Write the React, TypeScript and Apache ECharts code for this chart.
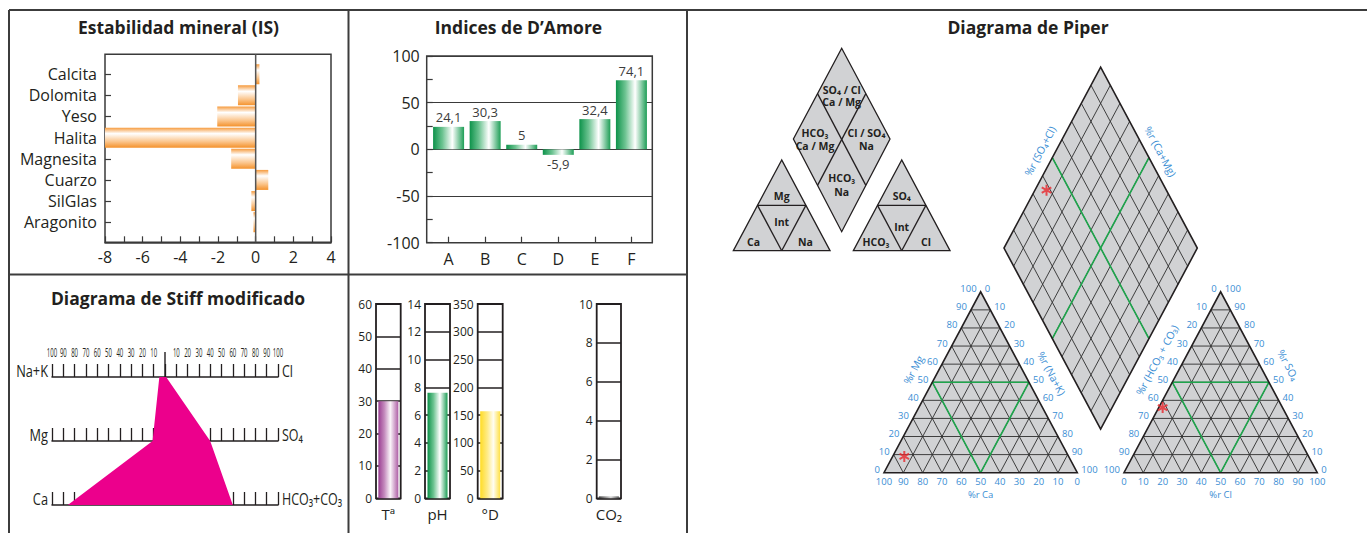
import React, { useEffect, useRef } from "react";
import * as echarts from "echarts";

// ---------- data ----------
const minerals = ["Calcita", "Dolomita", "Yeso", "Halita", "Magnesita", "Cuarzo", "SilGlas", "Aragonito"];
const saturationIndex = [0.2, -0.94, -2.04, -8, -1.3, 0.67, -0.23, -0.12];

const amoreIndices = ["A", "B", "C", "D", "E", "F"];
const amoreValues = [24.1, 30.3, 5, -5.9, 32.4, 74.1];

const stiffCationNames = ["Na+K", "Mg", "Ca"];
const stiffAnionNames = ["Cl", "SO₄", "HCO₃+CO₃"];
const stiffCations = [5, 11, 86];
const stiffAnions = [1, 40, 60];
const stiffTicks = [-100, -90, -80, -70, -60, -50, -40, -30, -20, -10, 10, 20, 30, 40, 50, 60, 70, 80, 90, 100];

const gaugeNames = ["Tª", "pH", "°D", "CO₂"];
const gaugeValues = [30, 7.6, 157, 0.1];
const gaugeMax = [60, 14, 350, 10];
const gaugeStep = [10, 2, 50, 2];

// % meq/L: Ca, Mg, Na+K  and  HCO3+CO3, SO4, Cl
const piperCations = [85, 9, 6];
const piperAnions = [62, 36, 2];
const piperTicks = [0, 10, 20, 30, 40, 50, 60, 70, 80, 90, 100];

// ---------- styles & layout ----------
const SANS = "'Open Sans', 'Noto Sans', 'DejaVu Sans', sans-serif";
const INK = "#231f20";
const RULE = "#3a3a3a";
const BLUE = "#3b8ed4";
const PIPER_FILL = "#d1d2d4";
const GRIDLINE = "#2e2e2e";
const GREEN_LINE = "#1ea54c";

const SI_BOX = { left: 105, top: 54.3, width: 226, height: 188 };
const SI_BARS = { left: 105, top: 63.6, width: 226, height: 169.2 };
const AM_BOX = { left: 426.7, top: 56, width: 225.6, height: 186.7 };
const AM_BARS = { left: 430.3, top: 56, width: 219.4, height: 186.7 };
const STIFF_LEFT = 52;
const STIFF_WIDTH = 226;
const STIFF_ROWS = [377, 441, 505];
const GAUGE_LEFT = [376, 425, 477.7, 596.7];
const GAUGE_WIDTH = [24.7, 25, 25, 24.3];
const GAUGE_TOP = 304;
const GAUGE_HEIGHT = 194.3;

// Piper geometry, in percent units (triangle base = 100)
const PIPER_GAP = 24.15;
const PIPER_H = 93.6;
const PIPER_RIGHT = 100 + PIPER_GAP;
const PIPER_B = [100 + PIPER_GAP / 2, (PIPER_GAP / 2) * (PIPER_H / 50)];
const PIPER_L = [PIPER_B[0] - 50, PIPER_B[1] + PIPER_H];
const PIPER_R = [PIPER_B[0] + 50, PIPER_B[1] + PIPER_H];
const PIPER_T = [PIPER_B[0], PIPER_B[1] + 2 * PIPER_H];
const PIPER_XMAX = 200 + PIPER_GAP;
const PIPER_YMAX = PIPER_T[1];
const PIPER_PX = 1.933;
const PIPER_ORIGIN = [884, 472.7];

const grad = (x2: number, y2: number, stops: [number, string][]) =>
  new echarts.graphic.LinearGradient(0, 0, x2, y2, stops.map(([offset, color]) => ({ offset, color })));

const ORANGE = () => grad(0, 1, [[0, "#f69a3c"], [0.3, "#ffffff"], [0.7, "#fbc58c"], [1, "#f4922c"]]);
const GREEN = () => grad(1, 0, [[0, "#0d924a"], [0.3, "#6cc391"], [0.62, "#ffffff"], [1, "#1d9e56"]]);
const gaugeFills = () => [
  grad(1, 0, [[0, "#9a3d92"], [0.3, "#c48abd"], [0.6, "#fbf5fa"], [1, "#ad5ea5"]]),
  GREEN(),
  grad(1, 0, [[0, "#ffdc26"], [0.35, "#ffeb85"], [0.66, "#fffdf2"], [1, "#ffe044"]]),
  grad(1, 0, [[0, "#3c3c3c"], [0.6, "#d8d8d8"], [1, "#555555"]]),
];

const mid = (a: number[], b: number[]) => [(a[0] + b[0]) / 2, (a[1] + b[1]) / 2];

function textStyle(text: string, fill: string, size: number, family: string, align = "center", weight = "normal") {
  return {
    text,
    fill,
    fontSize: size,
    fontFamily: family,
    fontWeight: weight,
    align,
    textAlign: align,
    verticalAlign: "middle",
    textVerticalAlign: "middle",
  };
}

function asteriskSymbol(): string {
  const len = 6;
  const w = 1.1;
  let d = "";
  for (const deg of [90, 30, 150]) {
    const a = (deg * Math.PI) / 180;
    const dx = Math.cos(a);
    const dy = Math.sin(a);
    const nx = -dy;
    const ny = dx;
    const pts = [
      [len * dx + w * nx, len * dy + w * ny],
      [len * dx - w * nx, len * dy - w * ny],
      [-len * dx - w * nx, -len * dy - w * ny],
      [-len * dx + w * nx, -len * dy + w * ny],
    ];
    d += "M" + pts.map((p) => p[0].toFixed(2) + " " + p[1].toFixed(2)).join(" L") + " Z ";
  }
  return "path://" + d;
}

// sample position on each Piper field
function piperPoints(): number[][] {
  const [ca, mg, nak] = piperCations;
  const [hco3, so4, cl] = piperAnions;
  const tot1 = ca + mg + nak;
  const tot2 = hco3 + so4 + cl;
  const cation = [(100 * nak) / tot1 + (50 * mg) / tot1, (PIPER_H * mg) / tot1];
  const anion = [PIPER_RIGHT + (100 * cl) / tot2 + (50 * so4) / tot2, (PIPER_H * so4) / tot2];
  const a = (ca + mg) / tot1;
  const s = (so4 + cl) / tot2;
  const diamond = [PIPER_B[0] - 50 * a + 50 * s, PIPER_B[1] + PIPER_H * (a + s)];
  return [cation, anion, diamond];
}

// condensed text: regular glyphs squeezed horizontally around the anchor
function narrowText(x: number, y: number, s: string, size: number, squeeze: number, align: string) {
  return { type: "text", x, y, scaleX: squeeze, scaleY: 1, style: textStyle(s, INK, size, SANS, align) };
}

function renderStiff(_params: any, api: any) {
  const pts = [
    api.coord([-stiffCations[0], 0]),
    api.coord([stiffAnions[0], 0]),
    api.coord([stiffAnions[1], 1]),
    api.coord([stiffAnions[2], 2]),
    api.coord([-stiffCations[2], 2]),
    api.coord([-stiffCations[1], 1]),
  ];
  const top = api.coord([0, 0]);
  const kids: any[] = [
    { type: "polygon", shape: { points: pts }, style: { fill: "#ec008c" } },
    {
      type: "line",
      shape: { x1: top[0], y1: top[1], x2: top[0], y2: top[1] - 25 },
      style: { stroke: INK, lineWidth: 1.4 },
    },
  ];
  // scale numbers above the first row
  for (const v of stiffTicks) {
    const p = api.coord([v, 0]);
    kids.push(narrowText(p[0], p[1] - 24.5, String(Math.abs(v)), 12, 0.5, "center"));
  }
  // ion names at both ends of each row
  for (let i = 0; i < 3; i++) {
    const l = api.coord([-100, i]);
    const r = api.coord([100, i]);
    kids.push(narrowText(l[0] - 4, l[1] - 6, stiffCationNames[i], 16, 0.8, "right"));
    kids.push(narrowText(r[0] + 4, r[1] - 6, stiffAnionNames[i], 16, 0.78, "left"));
  }
  return { type: "group", children: kids };
}

function renderPiper(_params: any, api: any) {
  const c = (p: number[]) => api.coord(p) as number[];
  const kids: any[] = [];
  const seg = (a: number[], b: number[], stroke: string, lineWidth: number) => {
    const p = c(a);
    const q = c(b);
    kids.push({ type: "line", shape: { x1: p[0], y1: p[1], x2: q[0], y2: q[1] }, style: { stroke, lineWidth } });
  };
  const fillArea = (pts: number[][]) =>
    kids.push({ type: "polygon", shape: { points: pts.map(c) }, style: { fill: PIPER_FILL } });
  const outline = (pts: number[][]) =>
    kids.push({ type: "polygon", shape: { points: pts.map(c) }, style: { fill: "none", stroke: INK, lineWidth: 1.6 } });
  const text = (x: number, y: number, s: string, align = "center", size = 9.5, rotation = 0) =>
    kids.push({ type: "text", x, y, rotation, style: textStyle(s, BLUE, size, SANS, align) });

  const p0 = c([0, 0]);
  const p1 = c([50, PIPER_H]);
  const ang = Math.atan2(p0[1] - p1[1], p1[0] - p0[0]);
  const nL = [-Math.sin(ang), -Math.cos(ang)];
  const nR = [Math.sin(ang), -Math.cos(ang)];
  const at = (p: number[], n: number[], d: number) => {
    const q = c(p);
    return [q[0] + n[0] * d, q[1] + n[1] * d];
  };

  // ternary fields
  for (const ox of [0, PIPER_RIGHT]) {
    const tri = [[ox, 0], [ox + 100, 0], [ox + 50, PIPER_H]];
    fillArea(tri);
    for (let i = 1; i < 10; i++) {
      const t = i / 10;
      seg([ox + 50 * t, PIPER_H * t], [ox + 100 - 50 * t, PIPER_H * t], GRIDLINE, 0.9);
      seg([ox + 100 * t, 0], [ox + 50 + 50 * t, PIPER_H * (1 - t)], GRIDLINE, 0.9);
      seg([ox + 100 * t, 0], [ox + 50 * t, PIPER_H * t], GRIDLINE, 0.9);
    }
    const m = PIPER_H / 2;
    seg([ox + 25, m], [ox + 75, m], GREEN_LINE, 1.6);
    seg([ox + 25, m], [ox + 50, 0], GREEN_LINE, 1.6);
    seg([ox + 75, m], [ox + 50, 0], GREEN_LINE, 1.6);
    outline(tri);
  }

  // central diamond
  const dia = [PIPER_B, PIPER_L, PIPER_T, PIPER_R];
  fillArea(dia);
  for (let i = 1; i < 10; i++) {
    const t = i / 10;
    const p = [PIPER_B[0] + 50 * t, PIPER_B[1] + PIPER_H * t];
    seg(p, [p[0] - 50, p[1] + PIPER_H], GRIDLINE, 0.9);
    const q = [PIPER_B[0] - 50 * t, PIPER_B[1] + PIPER_H * t];
    seg(q, [q[0] + 50, q[1] + PIPER_H], GRIDLINE, 0.9);
  }
  {
    const p = [PIPER_B[0] + 25, PIPER_B[1] + PIPER_H / 2];
    seg(p, [p[0] - 50, p[1] + PIPER_H], GREEN_LINE, 1.6);
    const q = [PIPER_B[0] - 25, PIPER_B[1] + PIPER_H / 2];
    seg(q, [q[0] + 50, q[1] + PIPER_H], GREEN_LINE, 1.6);
  }
  outline(dia);

  // scale numbers
  for (const v of piperTicks) {
    const s = String(v);
    let q = c([100 - v, 0]);
    text(q[0], q[1] + 8.5, s);
    q = c([v / 2, (PIPER_H * v) / 100]);
    text(q[0] - 4, q[1] - 3, s, "right");
    q = c([50 + v / 2, PIPER_H * (1 - v / 100)]);
    text(q[0] + 4, q[1] - 3, s, "left");
    q = c([PIPER_RIGHT + v, 0]);
    text(q[0], q[1] + 8.5, s);
    q = c([PIPER_RIGHT + 50 - v / 2, PIPER_H * (1 - v / 100)]);
    text(q[0] - 4, q[1] - 3, s, "right");
    q = c([PIPER_RIGHT + 100 - v / 2, (PIPER_H * v) / 100]);
    text(q[0] + 4, q[1] - 3, s, "left");
  }

  // axis titles
  let p = at([25.5, PIPER_H * 0.51], nL, 22.5);
  text(p[0], p[1], "%r Mg", "center", 10.5, ang);
  p = at([50 + 25.7, PIPER_H * (1 - 0.514)], nR, 24);
  text(p[0], p[1], "%r (Na+K)", "center", 10.5, -ang);
  p = c([50, 0]);
  text(p[0], p[1] + 21.5, "%r Ca", "center", 9.5);
  p = at([PIPER_RIGHT + 50 - 22, PIPER_H * 0.56], nL, 24);
  text(p[0], p[1], "%r (HCO₃ + CO₃)", "center", 10.5, ang);
  p = at([PIPER_RIGHT + 100 - 26.5, PIPER_H * 0.53], nR, 25);
  text(p[0], p[1], "%r SO₄", "center", 10.5, -ang);
  p = c([PIPER_RIGHT + 50, 0]);
  text(p[0], p[1] + 21.5, "%r Cl", "center", 9.5);
  p = at(mid(PIPER_L, PIPER_T), nL, 13.8);
  text(p[0], p[1], "%r (SO₄+Cl)", "center", 10.5, ang);
  p = at(mid(PIPER_T, PIPER_R), nR, 13);
  text(p[0], p[1], "%r (Ca+Mg)", "center", 10.5, -ang);

  return { type: "group", children: kids };
}

// classification key beside the Piper plot
function keyDiagram(): any[] {
  const els: any[] = [];
  const poly = (pts: number[][]) =>
    els.push({ type: "polygon", shape: { points: pts }, style: { fill: PIPER_FILL, stroke: INK, lineWidth: 1.3 } });
  const seg = (a: number[], b: number[]) =>
    els.push({ type: "line", shape: { x1: a[0], y1: a[1], x2: b[0], y2: b[1] }, style: { stroke: INK, lineWidth: 1.3 } });
  const label = (s: string, x: number, y: number) =>
    els.push({ type: "text", x, y, style: textStyle(s, INK, 10.5, SANS, "center", "bold") });

  for (const apexX of [781.7, 901.7]) {
    const A = [apexX, 160];
    const BL = [apexX - 48.35, 250.7];
    const BR = [apexX + 48.35, 250.7];
    poly([A, BL, BR]);
    const ml = mid(A, BL);
    const mr = mid(A, BR);
    const mb = mid(BL, BR);
    seg(ml, mr);
    seg(ml, mb);
    seg(mr, mb);
  }
  const T = [841.7, 48.3];
  const Lf = [793.4, 139];
  const Rt = [890, 139];
  const Bt = [841.7, 231.7];
  poly([T, Lf, Bt, Rt]);
  seg(mid(T, Lf), mid(Bt, Rt));
  seg(mid(T, Rt), mid(Bt, Lf));

  const labels: [string, number, number][] = [
    ["SO₄ / Cl", 841.7, 90],
    ["Ca / Mg", 841.7, 101.5],
    ["HCO₃", 815, 133],
    ["Ca / Mg", 815, 145.5],
    ["Cl / SO₄", 866.5, 133],
    ["Na", 866.5, 145.5],
    ["HCO₃", 841.7, 178],
    ["Na", 841.7, 191.5],
    ["Mg", 781.7, 195.5],
    ["Int", 781.7, 221.5],
    ["Ca", 753.5, 242],
    ["Na", 805.5, 242],
    ["SO₄", 901.7, 195.5],
    ["Int", 901.7, 227],
    ["HCO₃", 876, 242],
    ["Cl", 926, 242],
  ];
  labels.forEach(([s, x, y]) => label(s, x, y));
  return els;
}

function frame(): any[] {
  const line = (x1: number, y1: number, x2: number, y2: number) => ({
    type: "line",
    shape: { x1, y1, x2, y2 },
    style: { stroke: "#3c3c3c", lineWidth: 2 },
  });
  const title = (s: string, x: number, y: number) => ({
    type: "text",
    x,
    y,
    style: textStyle(s, INK, 17.5, SANS, "center", "bold"),
  });
  return [
    line(9, 10, 1367, 10),
    line(9, 10, 9, 533),
    line(9, 274.5, 687, 274.5),
    line(348.5, 10, 348.5, 533),
    line(687, 10, 687, 533),
    title("Estabilidad mineral (IS)", 178.5, 26.5),
    title("Indices de D’Amore", 518.5, 26.5),
    title("Diagrama de Stiff modificado", 178, 297.5),
    title("Diagrama de Piper", 1028, 26.5),
  ];
}

function buildOption(): any {
  const tickStyle = { color: RULE, width: 1.2 };
  const label16 = { fontSize: 16, fontFamily: SANS, color: INK };
  const fills = gaugeFills();

  const grid: any[] = [
    { ...SI_BOX, show: true, borderColor: RULE, borderWidth: 1.5 },
    { ...SI_BARS },
    { ...AM_BOX, show: true, borderColor: RULE, borderWidth: 1.5 },
    { ...AM_BARS },
    { left: STIFF_LEFT, width: STIFF_WIDTH, top: STIFF_ROWS[0], height: STIFF_ROWS[2] - STIFF_ROWS[0] },
    ...STIFF_ROWS.map((r) => ({ left: STIFF_LEFT, width: STIFF_WIDTH, top: r, height: 1 })),
    ...GAUGE_LEFT.map((left, i) => ({
      left,
      top: GAUGE_TOP,
      width: GAUGE_WIDTH[i],
      height: GAUGE_HEIGHT,
      show: true,
      borderColor: INK,
      borderWidth: 1.8,
    })),
    {
      left: PIPER_ORIGIN[0],
      top: PIPER_ORIGIN[1] - PIPER_YMAX * PIPER_PX,
      width: PIPER_XMAX * PIPER_PX,
      height: PIPER_YMAX * PIPER_PX,
    },
  ];

  const xAxis: any[] = [
    {
      gridIndex: 0,
      type: "value",
      min: -8,
      max: 4,
      interval: 2,
      axisLine: { show: true, onZero: false, lineStyle: { color: RULE, width: 1.5 } },
      axisTick: { show: true, inside: true, length: 6, lineStyle: tickStyle },
      minorTick: { show: true, splitNumber: 2, length: 6, lineStyle: tickStyle },
      splitLine: { show: false },
      axisLabel: { ...label16, margin: 7 },
    },
    { gridIndex: 1, type: "value", min: -8, max: 4, show: false },
    { gridIndex: 2, type: "value", min: 0, max: 1, show: false },
    {
      gridIndex: 3,
      type: "category",
      data: amoreIndices,
      axisLine: { show: false, onZero: false },
      axisTick: { show: true, inside: true, alignWithLabel: true, length: 6, lineStyle: tickStyle },
      axisLabel: { ...label16, margin: 8 },
    },
    { gridIndex: 4, type: "value", min: -100, max: 100, show: false },
    ...STIFF_ROWS.map((_, i) => ({
      gridIndex: 5 + i,
      type: "value",
      position: "top",
      min: -100,
      max: 100,
      interval: 10,
      axisLine: { show: true, onZero: false, lineStyle: { color: INK, width: 1.5 } },
      axisTick: { show: true, length: 13, lineStyle: { color: INK, width: 1.3 } },
      splitLine: { show: false },
      axisLabel: { show: false },
    })),
    ...gaugeNames.map((name, i) => ({
      gridIndex: 8 + i,
      type: "category",
      data: [name],
      axisLine: { show: false, onZero: false },
      axisTick: { show: false },
      axisLabel: { fontSize: 15, fontFamily: SANS, color: INK, margin: 8 },
    })),
    { gridIndex: 12, type: "value", min: 0, max: PIPER_XMAX, show: false },
  ];

  const yAxis: any[] = [
    { gridIndex: 0, type: "value", min: 0, max: 1, show: false },
    {
      gridIndex: 1,
      type: "category",
      data: minerals,
      inverse: true,
      axisLine: { show: false, onZero: false },
      axisTick: { show: true, inside: true, alignWithLabel: true, length: 6, lineStyle: tickStyle },
      axisLabel: { ...label16, margin: 8 },
    },
    {
      gridIndex: 2,
      type: "value",
      min: -100,
      max: 100,
      interval: 50,
      axisLine: { show: false, onZero: false },
      axisTick: { show: true, inside: true, length: 6, lineStyle: tickStyle },
      minorTick: { show: true, splitNumber: 2, length: 6, lineStyle: tickStyle },
      splitLine: { show: true, lineStyle: { color: RULE, width: 1.2 } },
      axisLabel: { ...label16, margin: 7 },
    },
    { gridIndex: 3, type: "value", min: -100, max: 100, show: false },
    {
      gridIndex: 4,
      type: "category",
      data: stiffCationNames,
      inverse: true,
      boundaryGap: false,
      show: false,
    },
    {
      gridIndex: 4,
      type: "category",
      position: "right",
      data: stiffAnionNames,
      inverse: true,
      boundaryGap: false,
      show: false,
    },
    ...STIFF_ROWS.map((_, i) => ({ gridIndex: 5 + i, type: "value", min: 0, max: 1, show: false })),
    ...gaugeMax.map((max, i) => ({
      gridIndex: 8 + i,
      type: "value",
      min: 0,
      max,
      interval: gaugeStep[i],
      axisLine: { show: false, onZero: false },
      axisTick: { show: false },
      splitLine: { show: true, lineStyle: { color: INK, width: 1.5 } },
      axisLabel: { fontSize: 12, fontFamily: SANS, color: INK, margin: 4 },
    })),
    { gridIndex: 12, type: "value", min: 0, max: PIPER_YMAX, show: false },
  ];

  const series: any[] = [
    {
      type: "line",
      xAxisIndex: 0,
      yAxisIndex: 0,
      data: [[0, 0], [0, 1]],
      symbol: "none",
      silent: true,
      z: 3,
      lineStyle: { color: "#555555", width: 1.5 },
    },
    {
      type: "bar",
      xAxisIndex: 1,
      yAxisIndex: 1,
      data: saturationIndex,
      barWidth: 20,
      silent: true,
      itemStyle: { color: ORANGE() },
    },
    {
      type: "bar",
      xAxisIndex: 3,
      yAxisIndex: 3,
      barWidth: 31,
      silent: true,
      data: amoreValues.map((v) => ({ value: v, label: { position: v < 0 ? "bottom" : "top" } })),
      itemStyle: { color: GREEN() },
      label: {
        show: true,
        fontSize: 13,
        fontFamily: SANS,
        color: "#3c3c3c",
        distance: 3,
        formatter: (p: any) => String(p.value).replace(".", ","),
      },
    },
    {
      type: "custom",
      xAxisIndex: 4,
      yAxisIndex: 4,
      data: [[0, 0]],
      silent: true,
      z: 3,
      renderItem: renderStiff,
    },
    ...gaugeValues.map((v, i) => ({
      type: "bar",
      xAxisIndex: 8 + i,
      yAxisIndex: 9 + i,
      data: [v],
      barWidth: 20,
      silent: true,
      itemStyle: { color: fills[i] },
    })),
    {
      type: "custom",
      xAxisIndex: 12,
      yAxisIndex: 13,
      data: [[0, 0]],
      silent: true,
      z: 2,
      renderItem: renderPiper,
    },
    {
      type: "scatter",
      xAxisIndex: 12,
      yAxisIndex: 13,
      data: piperPoints(),
      symbol: asteriskSymbol(),
      symbolSize: 11,
      symbolKeepAspect: true,
      silent: true,
      z: 5,
      itemStyle: { color: "#e8262b" },
    },
  ];

  return {
    animation: false,
    backgroundColor: "#ffffff",
    grid,
    xAxis,
    yAxis,
    series,
    graphic: { elements: [...frame(), ...keyDiagram()] },
  };
}

export default function App() {
  const ref = useRef<HTMLDivElement>(null);
  useEffect(() => {
    const chart = echarts.init(ref.current as HTMLDivElement, undefined, { renderer: "svg" });
    chart.setOption(buildOption());
    return () => chart.dispose();
  }, []);
  return (
    <div
      ref={ref}
      style={{ position: "fixed", left: 0, top: 0, width: 1367, height: 533, background: "#ffffff" }}
    />
  );
}
